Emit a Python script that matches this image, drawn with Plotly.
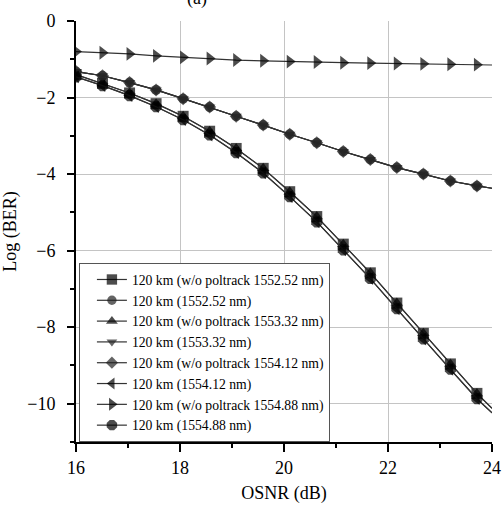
import plotly.graph_objects as go

# OSNR sample positions (last point = line end, no marker)
osnr = [16.0, 16.51, 17.03, 17.54, 18.06, 18.57, 19.08, 19.6, 20.11, 20.63,
        21.14, 21.66, 22.17, 22.68, 23.2, 23.71, 24.0]

# lower pair of curves
ber_low_a = [-1.40, -1.63, -1.88, -2.16, -2.49, -2.88, -3.33, -3.85, -4.46, -5.11,
             -5.83, -6.58, -7.37, -8.16, -8.96, -9.73, -10.12]
ber_low_b = [-1.46, -1.69, -1.95, -2.24, -2.58, -2.98, -3.44, -3.97, -4.59, -5.25,
             -5.98, -6.73, -7.52, -8.31, -9.10, -9.87, -10.24]
# middle curves
ber_mid = [-1.32, -1.43, -1.61, -1.80, -2.03, -2.25, -2.49, -2.72, -2.96, -3.18,
           -3.41, -3.62, -3.83, -4.00, -4.18, -4.31, -4.37]
# top curve (w/o poltrack 1554.88 nm)
ber_top = [-0.80, -0.83, -0.86, -0.91, -0.95, -0.98, -1.02, -1.04, -1.06, -1.07,
           -1.09, -1.10, -1.11, -1.12, -1.13, -1.14, -1.15]

names = [
    "120 km (w/o poltrack 1552.52 nm)",
    "120 km (1552.52 nm)",
    "120 km (w/o poltrack 1553.32 nm)",
    "120 km (1553.32 nm)",
    "120 km (w/o poltrack 1554.12 nm)",
    "120 km (1554.12 nm)",
    "120 km (w/o poltrack 1554.88 nm)",
    "120 km (1554.88 nm)",
]
symbols = ["square", "circle", "triangle-up", "triangle-down", "diamond",
           "triangle-left", "triangle-right", "octagon"]
series = [ber_low_a, ber_mid, ber_low_a, ber_mid, ber_mid, ber_low_b, ber_top, ber_low_b]
mcolors = ["#000000", "#222222", "#000000", "#222222", "#222222", "#000000", "#000000", "#000000"]
msizes = [11, 10, 11, 10, 10, 11, 12, 12]

FONT = "Liberation Serif"
fig = go.Figure()
for name, sym, ys, mc, ms in zip(names, symbols, series, mcolors, msizes):
    sizes = [ms] * (len(osnr) - 1) + [0]
    fig.add_trace(go.Scatter(
        x=osnr, y=ys, name=name, mode="lines+markers",
        line=dict(color="#333333", width=1.2),
        marker=dict(symbol=sym, size=sizes, color=mc, line=dict(width=0)),
    ))

fig.add_annotation(text="(a)", x=0.262, y=1.0, xref="paper", yref="paper",
                   yanchor="bottom", yshift=10, showarrow=False,
                   font=dict(family=FONT, size=18, color="black"))

fig.update_layout(
    width=503, height=507,
    margin=dict(l=76, r=11, t=21, b=65, autoexpand=False),
    paper_bgcolor="white", plot_bgcolor="white",
    font=dict(family=FONT, size=18, color="black"),
    showlegend=True,
    legend=dict(x=0.007, y=0.425, xanchor="left", yanchor="top",
                bgcolor="white", bordercolor="#555555", borderwidth=1,
                font=dict(family=FONT, size=13.7, color="black"),
                tracegroupgap=0, itemwidth=30, indentation=12,
                entrywidth=245, entrywidthmode="pixels"),
    xaxis=dict(range=[16, 24], dtick=2, tick0=16, showline=True, linecolor="black",
               linewidth=2, ticks="outside", ticklen=8, tickwidth=1.5, tickcolor="black",
               showgrid=True, gridcolor="#c4c4c4", gridwidth=1, zeroline=False,
               automargin=False,
               minor=dict(dtick=1, ticks="outside", ticklen=4, tickcolor="black", showgrid=False),
               title=dict(text="OSNR (dB)", font=dict(family=FONT, size=18), standoff=10),
               tickfont=dict(family=FONT, size=18)),
    yaxis=dict(range=[-11, 0], dtick=2, tick0=0, showline=True, linecolor="black",
               linewidth=2, ticks="outside", ticklen=7, tickwidth=1.5, tickcolor="black",
               showgrid=True, gridcolor="#c4c4c4", gridwidth=1, zeroline=False,
               automargin=False,
               minor=dict(dtick=1, ticks="outside", ticklen=4, tickcolor="black", showgrid=False),
               title=dict(text="Log (BER)", font=dict(family=FONT, size=18), standoff=14),
               tickfont=dict(family=FONT, size=18), ticklabelstandoff=8),
)

fig.write_html("out.html", config={"displayModeBar": False},
               post_script="document.body.style.margin='0';document.body.style.overflow='hidden';")
